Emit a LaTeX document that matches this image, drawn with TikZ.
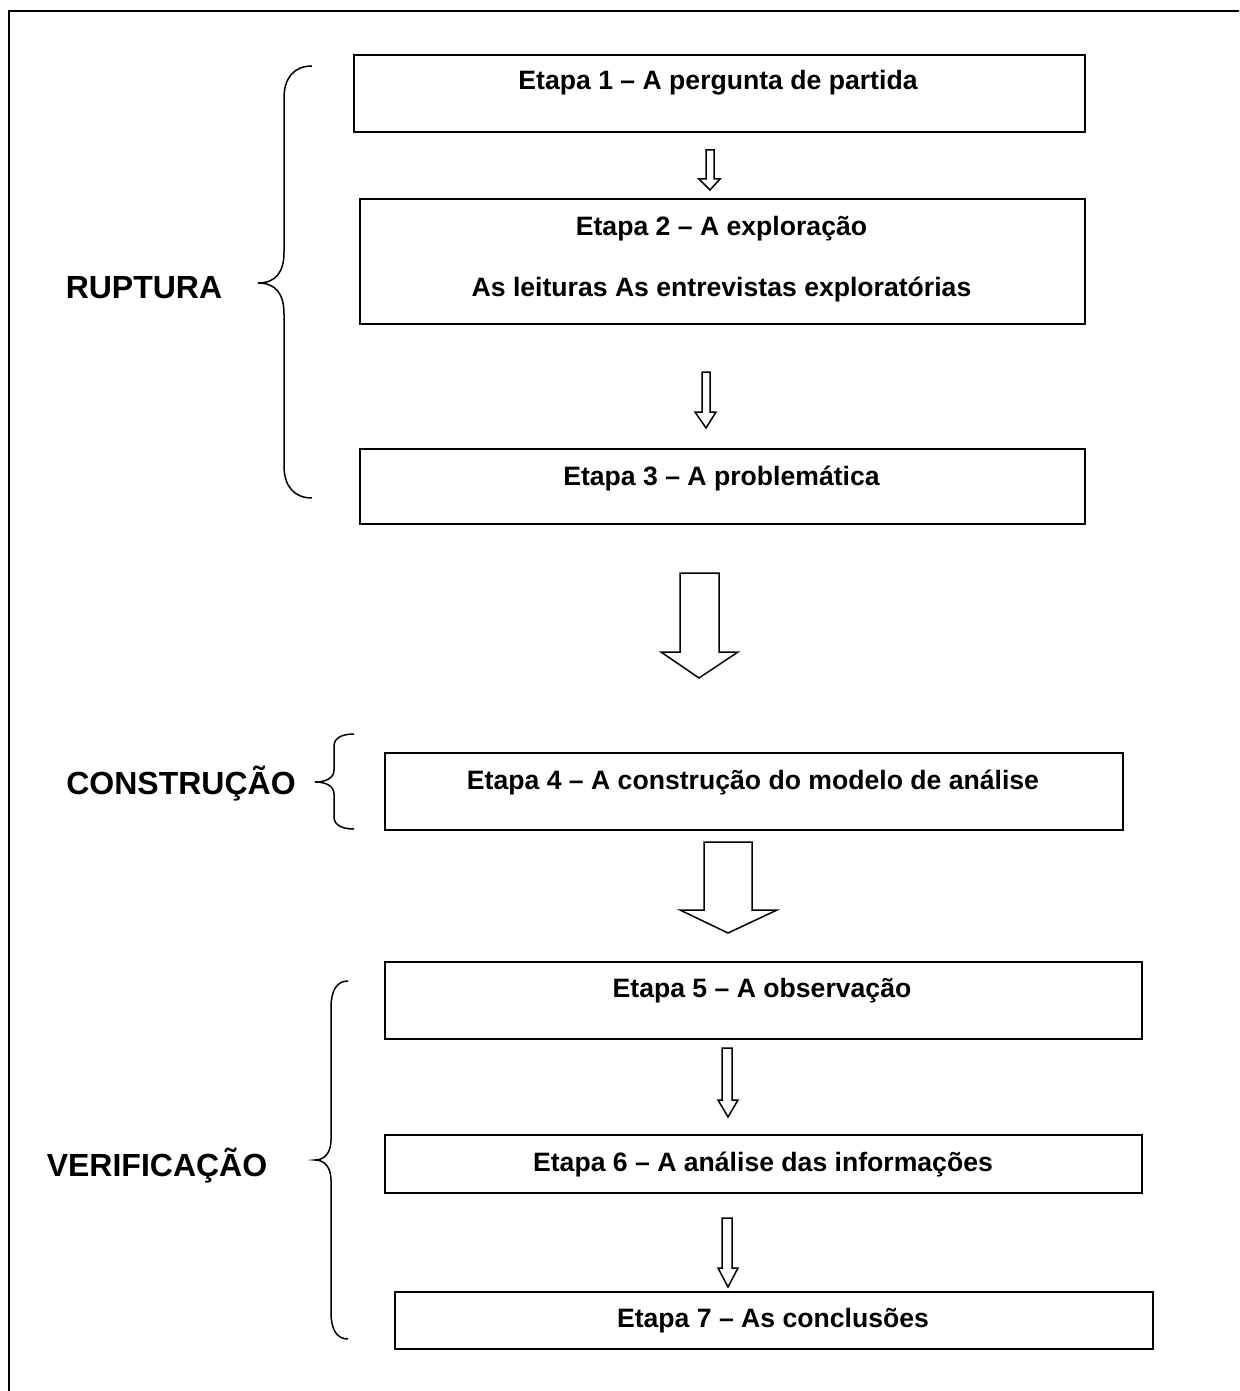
\documentclass[tikz,border=0pt]{standalone}
\usepackage{fontspec}
\setmainfont{Liberation Sans}
\begin{document}
\begin{tikzpicture}[x=0.5pt,y=-0.5pt,
  box/.style={draw,line width=1pt,rectangle,inner sep=0pt,anchor=north west},
  etxt/.style={font=\fontsize{13.3}{16}\selectfont\bfseries,anchor=base,inner sep=0pt},
  grp/.style={font=\fontsize{16}{19}\selectfont\bfseries,anchor=base,inner sep=0pt},
  brc/.style={line width=0.75pt},
  harrow/.style={line width=0.75pt,line join=miter}]
\useasboundingbox (0,0) rectangle (1239,1391);
\clip (0,0) rectangle (1239,1391);
% outer frame
\draw[line width=1pt] (9,11) rectangle (1260,1420);
% boxes
\node[box,minimum width=731*0.5pt,minimum height=77*0.5pt] (b1) at (353,54) {};
\node[box,minimum width=725*0.5pt,minimum height=125*0.5pt] (b2) at (359,198) {};
\node[box,minimum width=725*0.5pt,minimum height=75*0.5pt] (b3) at (359,448) {};
\node[box,minimum width=738*0.5pt,minimum height=77*0.5pt] (b4) at (384,752) {};
\node[box,minimum width=757*0.5pt,minimum height=77*0.5pt] (b5) at (384,961) {};
\node[box,minimum width=757*0.5pt,minimum height=58*0.5pt] (b6) at (384,1134) {};
\node[box,minimum width=758*0.5pt,minimum height=57*0.5pt] (b7) at (394,1291) {};
% texts
\node[etxt] (t1) at (718,90) {Etapa 1 – A pergunta de partida};
\node[etxt] (t2a) at (721.5,235) {Etapa 2 – A exploração};
\node[etxt] (t2b) at (721.5,296) {As leituras As entrevistas exploratórias};
\node[etxt] (t3) at (721.5,485) {Etapa 3 – A problemática};
\node[etxt] (t4) at (753,789) {Etapa 4 – A construção do modelo de análise};
\node[etxt] (t5) at (762,997) {Etapa 5 – A observação};
\node[etxt] (t6) at (763,1171) {Etapa 6 – A análise das informações};
\node[etxt] (t7) at (773,1327) {Etapa 7 – As conclusões};
% group labels
\node[grp] (g1) at (144,299) {RUPTURA};
\node[grp] (g2) at (181,794) {CONSTRUÇÃO};
\node[grp] (g3) at (157,1176) {VERIFICAÇÃO};
% braces
\draw[brc] (312,66) .. controls (294,66) and (284,78) .. (284,98) -- (284,252)
  .. controls (284,272) and (276,283) .. (258,283)
  .. controls (276,283) and (284,294) .. (284,314) -- (284,466)
  .. controls (284,486) and (294,498) .. (312,498);
\draw[brc] (354,734) .. controls (342,734) and (334,738) .. (334,746) -- (334,770)
  .. controls (334,778) and (326,782) .. (315,782)
  .. controls (326,782) and (334,786) .. (334,794) -- (334,817)
  .. controls (334,825) and (342,829) .. (354,829);
\draw[brc] (348,981) .. controls (337,981) and (331,990) .. (331,1008) -- (331,1140)
  .. controls (331,1152) and (325,1160) .. (315,1160)
  .. controls (325,1160) and (331,1168) .. (331,1180) -- (331,1312)
  .. controls (331,1330) and (337,1339) .. (348,1339);
% small hollow arrows
\draw[harrow] (706,150) -- (714,150) -- (714,179) -- (720,179) -- (710,190) -- (699,179) -- (706,179) -- cycle;
\draw[harrow] (702,372) -- (710,372) -- (710,412) -- (716,412) -- (706,428) -- (695,412) -- (702,412) -- cycle;
\draw[harrow] (722,1048) -- (732,1048) -- (732,1100) -- (738,1100) -- (728,1117) -- (718,1100) -- (722,1100) -- cycle;
\draw[harrow] (722,1218) -- (732,1218) -- (732,1268) -- (738,1268) -- (728,1287) -- (718,1268) -- (722,1268) -- cycle;
% big hollow arrows
\draw[harrow] (680,573) -- (719,573) -- (719,652) -- (738,652) -- (699,678) -- (661,652) -- (680,652) -- cycle;
\draw[harrow] (704,842) -- (752,842) -- (752,910) -- (777,910) -- (728,933) -- (680,910) -- (704,910) -- cycle;
\end{tikzpicture}
\end{document}
